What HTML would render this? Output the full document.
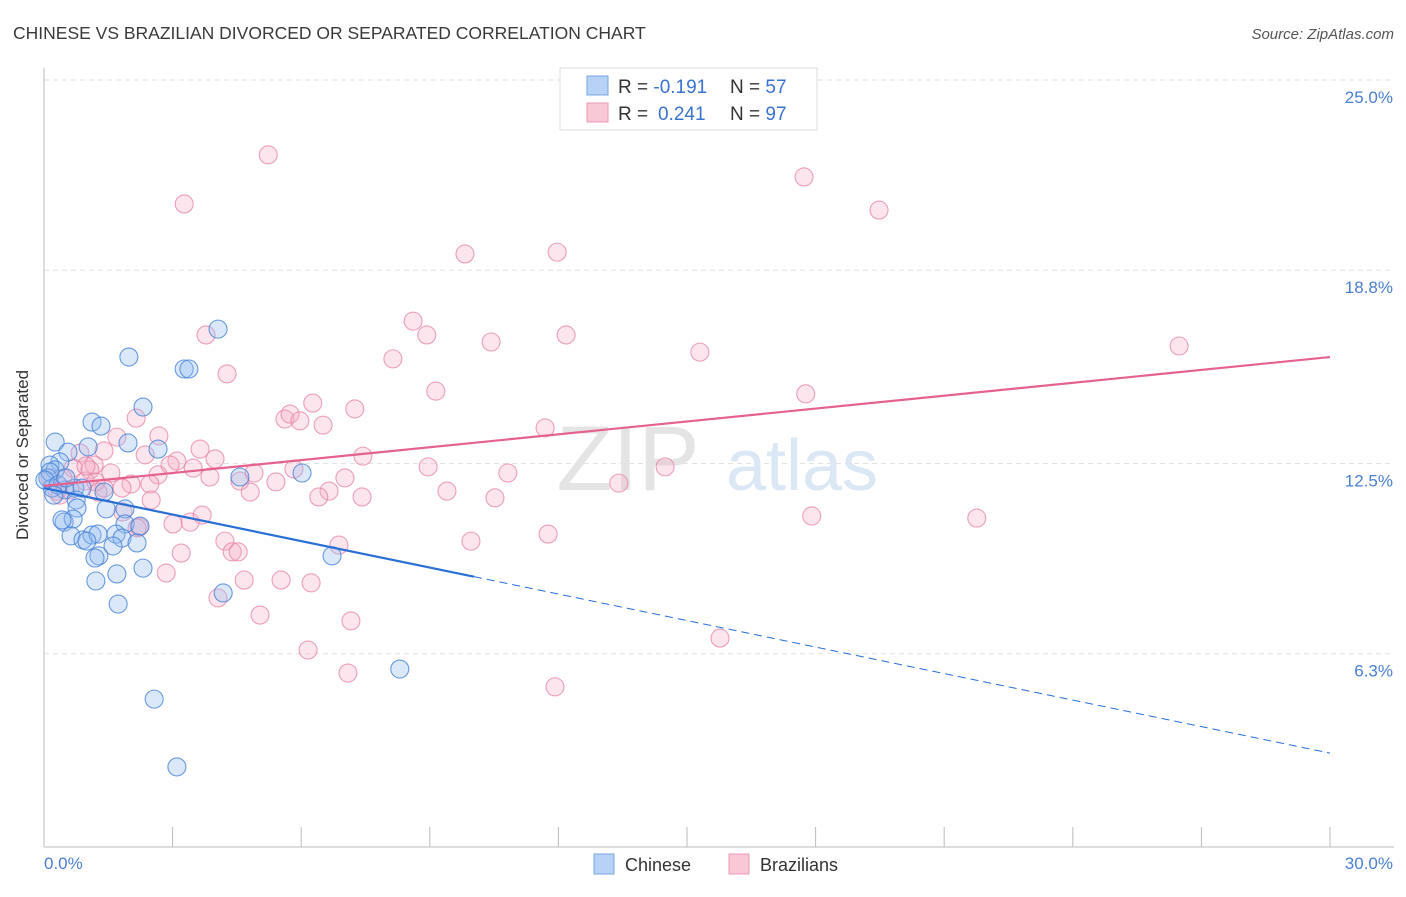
<!DOCTYPE html>
<html><head><meta charset="utf-8"><style>
body{margin:0;background:#fff;font-family:"Liberation Sans",sans-serif;}
svg text{font-family:"Liberation Sans",sans-serif;}
</style></head><body>
<svg width="1406" height="892" viewBox="0 0 1406 892" xmlns="http://www.w3.org/2000/svg">
<text x="13" y="39" font-size="17.5" fill="#3a3a3a">CHINESE VS BRAZILIAN DIVORCED OR SEPARATED CORRELATION CHART</text>
<text x="1394" y="39" font-size="15" fill="#555" font-style="italic" text-anchor="end">Source: ZipAtlas.com</text>
<g id="grid"></g>
<g id="ylabels"></g>
<g>
<text x="628" y="490" font-size="92" fill="#e4e4e4" font-family="Liberation Serif" text-anchor="middle">ZIP</text>
<text x="802" y="490" font-size="72" fill="#dbe7f5" text-anchor="middle">atlas</text>
</g>
<line x1="44" y1="68" x2="44" y2="847" stroke="#bbb"/>
<line x1="44" y1="847" x2="1394" y2="847" stroke="#bbb"/>
<g id="xticks"></g>
<text x="28" y="455" font-size="17" fill="#333" text-anchor="middle" transform="rotate(-90 28 455)">Divorced or Separated</text>
<text x="44" y="869" font-size="17" fill="#4a7fd0">0.0%</text>
<text x="1393" y="869" font-size="17" fill="#4a7fd0" text-anchor="end">30.0%</text>
<g id="pink"></g>
<g id="blue"></g>
<g id="trends"></g>
<g>
<rect x="560" y="68" width="257" height="62" fill="#fff" stroke="#ddd"/>
<rect x="587" y="76" width="21" height="19" fill="#b7d2f5" stroke="#7aa5e0"/>
<rect x="587" y="103" width="21" height="19" fill="#f8c8d7" stroke="#eb9bb5"/>
<text x="618" y="93" font-size="19" fill="#333">R = <tspan fill="#3a72d0">-0.191</tspan><tspan x="730">N = </tspan><tspan fill="#3a72d0">57</tspan></text>
<text x="618" y="120" font-size="19" fill="#333">R = <tspan fill="#3a72d0" x="658">0.241</tspan><tspan x="730">N = </tspan><tspan fill="#3a72d0">97</tspan></text>
</g>
<g>
<rect x="594" y="854" width="20" height="20" fill="#b7d2f5" stroke="#7aa5e0"/>
<text x="625" y="871" font-size="18" fill="#333">Chinese</text>
<rect x="729" y="854" width="20" height="20" fill="#f8c8d7" stroke="#eb9bb5"/>
<text x="760" y="871" font-size="18" fill="#333">Brazilians</text>
</g>
</svg>
<script>
const yTicks=[6.3,12.5,18.8,25.0];
const yTickLabels=["6.3%","12.5%","18.8%","25.0%"];
const xTickValues=[0,3,6,9,12,15,18,21,24,27,30];
const chineseX=[4.06,1.98,3.27,3.38,2.31,1.12,1.33,0.26,1.03,1.96,2.66,4.57,6.02,0.56,0.37,0.14,0.26,0.09,0.19,0.49,0.72,0.89,1.40,0.75,1.45,1.89,0.77,0.47,0.68,1.89,2.24,0.63,0.91,1.12,1.26,1.68,1.82,1.61,2.17,1.00,1.28,1.19,2.31,1.70,1.21,4.18,1.73,6.72,8.30,2.57,3.10,0.14,0.02,0.33,0.42,0.51,0.23];
const chineseY=[16.88,15.97,15.58,15.58,14.34,13.85,13.72,13.20,13.04,13.17,12.97,12.06,12.19,12.87,12.55,12.45,12.29,12.03,11.70,11.64,11.70,11.70,11.57,11.31,11.02,11.02,11.05,10.59,10.69,10.53,10.46,10.14,10.01,10.17,10.20,10.20,10.07,9.81,9.91,9.97,9.49,9.42,9.09,8.90,8.67,8.28,7.92,9.49,5.80,4.82,2.61,12.22,11.96,11.80,10.66,12.03,11.47];
const brazX=[5.23,3.27,17.73,19.48,9.82,11.97,8.61,8.93,10.43,12.18,8.14,4.27,3.78,15.30,26.48,9.14,17.77,7.25,6.27,5.62,5.74,5.97,6.51,2.15,1.70,2.68,3.64,11.69,14.49,10.82,8.96,7.44,7.02,5.41,5.83,4.90,4.57,4.81,3.87,3.99,3.48,3.10,2.94,2.66,2.47,2.36,2.03,1.82,1.40,1.17,1.07,1.40,0.84,0.68,0.44,0.30,0.14,0.61,0.96,1.21,9.40,10.52,13.41,6.65,6.41,7.42,2.50,1.84,2.22,3.41,3.01,3.69,17.91,21.76,9.96,11.76,6.88,3.20,4.22,4.39,4.53,2.85,4.67,5.53,6.23,4.06,5.04,7.16,15.77,6.16,7.09,11.92,2.17,0.98,1.56,1.26,0.37];
const brazY=[22.56,20.96,21.84,20.76,19.33,19.39,17.14,16.69,16.46,16.69,15.91,15.42,16.69,16.13,16.33,14.86,14.77,14.28,14.47,13.95,14.11,13.89,13.75,13.98,13.36,13.40,12.97,13.66,12.39,12.19,12.39,12.74,12.03,11.90,12.32,12.19,11.93,11.57,12.06,12.65,12.35,12.58,12.45,12.13,11.83,12.78,11.83,11.70,12.91,12.45,12.29,11.70,12.84,12.35,12.03,11.60,12.03,11.64,11.93,11.90,11.60,11.38,11.86,11.60,11.41,11.41,11.31,10.92,10.43,10.59,10.53,10.82,10.79,10.72,9.97,10.20,9.84,9.58,9.97,9.62,9.62,8.93,8.70,8.70,8.61,8.12,7.56,7.37,6.81,6.42,5.67,5.22,10.40,12.42,12.19,11.57,11.47];
const chineseTrend=[11.70,3.06];
const chineseSolidEnd=10.03;
const brazTrend=[11.77,15.97];

const NS="http://www.w3.org/2000/svg";
const xs=v=>44+v/30*1286;
const ys=v=>847-v*30.68;
function mk(tag,attrs,parent){const e=document.createElementNS(NS,tag);for(const k in attrs)e.setAttribute(k,attrs[k]);parent.appendChild(e);return e;}
const grid=document.getElementById('grid'),yl=document.getElementById('ylabels');
yTicks.forEach((t,i)=>{
 const l=mk('line',{x1:44,x2:1394,y1:ys(t),y2:ys(t),stroke:'#e2e2e2','stroke-dasharray':'5,4'},grid);
 
 
 const tx=mk('text',{x:1393,y:ys(t)+23,'font-size':17,fill:'#4a7fd0','text-anchor':'end'},yl);
 tx.textContent=yTickLabels[i];
 
 
});
const xt=document.getElementById('xticks');
xTickValues.forEach(v=>{
 const l=mk('line',{x1:xs(v),x2:xs(v),y1:827,y2:847,stroke:'#bbb'},xt);
 
 
});
const pg=document.getElementById('pink');
brazX.forEach((x,i)=>{
 const c=mk('circle',{cx:xs(x),cy:ys(brazY[i]),r:9,fill:'rgba(246,170,195,0.3)',stroke:'rgba(230,130,165,0.75)','stroke-width':1.1},pg);
 
 
});
const bg=document.getElementById('blue');
chineseX.forEach((x,i)=>{
 const c=mk('circle',{cx:xs(x),cy:ys(chineseY[i]),r:9,fill:'rgba(150,190,240,0.35)',stroke:'rgba(70,130,215,0.8)','stroke-width':1.1},bg);
 
 
});
const tg=document.getElementById('trends');
const cy=x=>chineseTrend[0]+(chineseTrend[1]-chineseTrend[0])*x/30;
let l1=mk('line',{x1:xs(0),y1:ys(brazTrend[0]),x2:xs(30),y2:ys(brazTrend[1]),stroke:'#e5628e','stroke-width':2.2},tg);


let l2=mk('line',{x1:xs(0),y1:ys(cy(0)),x2:xs(chineseSolidEnd),y2:ys(cy(chineseSolidEnd)),stroke:'#2a6fd6','stroke-width':2.2},tg);


let l3=mk('line',{x1:xs(chineseSolidEnd),y1:ys(cy(chineseSolidEnd)),x2:xs(30),y2:ys(cy(30)),stroke:'#2a6fd6','stroke-width':1,'stroke-dasharray':'8,5'},tg);


</script>
</body></html>
